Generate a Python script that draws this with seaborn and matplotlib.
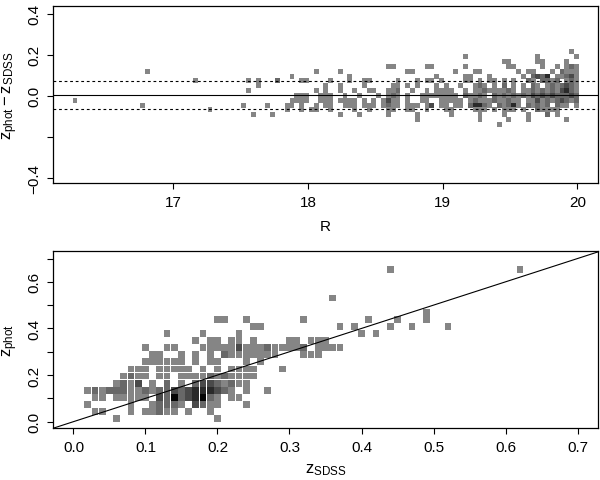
import numpy as np
import pandas as pd
import matplotlib
matplotlib.use("Agg")
import matplotlib.pyplot as plt
import seaborn as sns

sns.set_theme(style="ticks")
plt.rcParams["font.family"] = ["Liberation Sans", "DejaVu Sans"]
plt.rcParams["mathtext.fontset"] = "custom"
plt.rcParams["mathtext.rm"] = "Liberation Sans"
plt.rcParams["mathtext.it"] = "Liberation Sans"

# ---------------- data ----------------
# grey level of each occupied cell (1 = one object, higher = darker)
level_colors = {1: "#858585", 2: "#686868", 3: "#4a4a4a", 4: "#2a2a2a", 5: "#050505"}

# top panel: R bins (columns) x (z_phot - z_SDSS) bins (rows)
top_r_first, top_r_width = 16.27, 0.0358
top_dz_first, top_dz_width = 0.001, 0.0236
top_rows = {
    9: "..........|..........|..........|..........|..........|..........|..........|..........|..........|..........|...1..",
    8: "..........|..........|..........|..........|..........|..........|..........|..........|.1........|......1...|....1.",
    7: "..........|..........|..........|..........|..........|..........|..........|..........|.........1|1.....11..|..1...",
    6: "..........|..........|..........|..........|..........|..........|.....11...|...11.....|.1........|11.....1..|1.121.",
    5: "..........|.....1....|..........|..........|..........|1....1....|.........1|1........1|...11.....|..1.11...1|.2111.",
    4: "..........|..........|..........|..........|.....1....|.......1..|..........|.....1....|.11...1...|...1.2324.|11231.",
    3: "..........|..........|.....1....|......1.1.|..2....11.|...1...1..|11.....1..|.1.11.1...|.11.1.11.1|.1..21.221|2.121.",
    2: "..........|..........|..........|........1.|..........|..1..1....|1.....11.1|.1...1.1..|1..121.1.2|.1.1.21.12|12321.",
    1: "..........|..........|..........|......1...|..........|1.1..1..1.|.11..112..|1..1.1111.|.1.1121111|21.1121212|13421.",
    0: "..........|..........|..........|..........|......111.|.111..1..1|...1.121.1|..11111111|.21121.212|1212132323|22232.",
    -1: "1.........|..........|..........|..........|.....1111.|.111.1111.|1.1.1311.1|..11..1111|1.12111211|211.113121|23212.",
    -2: "..........|....1.....|..........|.....1....|1...11.1..|1.11..111.|111.1211.1|11.13.11.1|1.24421.21|241.21212.|211.1.",
    -3: "..........|..........|........1.|..........|....1..1.1|1..1....1.|.1...11..1|1..1...11.|...111.1.1|11.1..2111|1.....",
    -4: "..........|..........|..........|.......1..|.1........|.....1...1|.....1....|.1......1.|....1....1|....1...2.|1.....",
    -5: "..........|..........|..........|..........|..........|..........|..........|.1........|....1.....|1...1.....|..1...",
    -6: "..........|..........|..........|..........|..........|..........|..........|..........|........1.|..........|......",
}
dz_mean, dz_sigma = 0.003, 0.068

# bottom panel: z_SDSS bins (columns) x z_phot bins (rows)
bot_x_first, bot_x_width = 0.0, 0.01
bot_y_first, bot_y_width = 0.0125, 0.0305
bot_rows = {
    0: "......1...|..........|1.........|..........|..........|..........|...",
    1: "...11...1.|11211.1..1|..........|..........|..........|..........|...",
    2: "..1.....1.|.12221.321|1...1.....|..........|..........|..........|...",
    3: "...11.1111|1.32523452|1.11......|..........|..........|..........|...",
    4: "..12122211|2122323444|321.1..1..|..........|..........|..........|...",
    5: "......1213|.1.2.1.233|21211.....|..........|..........|..........|...",
    6: ".......121|1.11.11112|121111....|..........|..........|..........|...",
    7: "........11|1.11111.1.|1.1111...1|..........|..........|..........|...",
    8: "..........|111111.1.1|1...1.1...|..........|..........|..........|...",
    9: "..........|.11..1.1.1|.21111111.|..111.....|..........|..........|...",
    10: "..........|1..11...11|1113111211|112.1111..|..........|..........|...",
    11: "..........|.......1.1|1.11.1....|11.111....|..........|..........|...",
    12: "..........|...1....1.|...1......|..........|1.1.......|..........|...",
    13: "..........|..........|.....11...|.......1.1|....1..1..|..1.......|...",
    14: "..........|..........|11..1.....|..1.......|.1...1...1|..........|...",
    15: "..........|..........|..........|..........|.........1|..........|...",
    17: "..........|..........|..........|......1...|..........|..........|...",
    21: "..........|..........|..........|..........|....1.....|..........|..1",
}


def cells(rows, x0, dx, y0, dy, xname, yname):
    recs = []
    for r, s in rows.items():
        for c, ch in enumerate(s.replace("|", "")):
            if ch != ".":
                recs.append({xname: x0 + dx * c, yname: y0 + dy * r, "level": int(ch)})
    return pd.DataFrame(recs)


top_df = cells(top_rows, top_r_first, top_r_width, top_dz_first, top_dz_width, "R", "dz")
bot_df = cells(bot_rows, bot_x_first, bot_x_width, bot_y_first, bot_y_width, "zsdss", "zphot")

# ---------------- figure ----------------
fig = plt.figure(figsize=(6.0, 4.81), dpi=100)
ax1 = fig.add_axes([53.3 / 600, 1 - 184.3 / 481, 544.4 / 600, 177 / 481])
ax2 = fig.add_axes([53.3 / 600, 1 - 429.3 / 481, 544.4 / 600, 177 / 481])

sns.scatterplot(data=top_df, x="R", y="dz", hue="level", palette=level_colors,
                marker="s", s=12.5, linewidth=0, legend=False, ax=ax1, zorder=2)
ax1.axhline(dz_mean, color="black", lw=0.8, zorder=3)
ax1.axhline(dz_mean + dz_sigma, color="black", lw=0.8, ls=(0, (2.5, 2.5)), zorder=3)
ax1.axhline(dz_mean - dz_sigma, color="black", lw=0.8, ls=(0, (2.5, 2.5)), zorder=3)
ax1.set_xlim(16.109, 20.151)
ax1.set_ylim(-0.428, 0.436)
ax1.set_xticks([17, 18, 19, 20])
ax1.set_xticklabels(["17", "18", "19", "20"])
ax1.set_yticks([-0.4, -0.2, 0.0, 0.2, 0.4])
ax1.set_yticklabels(["\u22120.4", "", "0.0", "0.2", "0.4"])
ax1.set_xlabel("R", fontsize=11)
ax1.set_ylabel(r"$\mathrm{z_{phot} - z_{SDSS}}$", fontsize=12)

sns.scatterplot(data=bot_df, x="zsdss", y="zphot", hue="level", palette=level_colors,
                marker="s", s=24, linewidth=0, legend=False, ax=ax2, zorder=2)
ax2.axline((0, 0), slope=1, color="black", lw=0.8, zorder=3)
ax2.set_xlim(-0.028, 0.728)
ax2.set_ylim(-0.0285, 0.731)
ax2.set_xticks(np.arange(0, 8) / 10)
ax2.set_xticklabels(["0.0", "0.1", "0.2", "0.3", "0.4", "0.5", "0.6", "0.7"])
ax2.set_yticks(np.arange(0, 8) / 10)
ax2.set_yticklabels(["0.0", "", "0.2", "", "0.4", "", "0.6", ""])
ax2.set_xlabel(r"$\mathrm{z_{SDSS}}$", fontsize=12)
ax2.set_ylabel(r"$\mathrm{z_{phot}}$", fontsize=12)

for ax in (ax1, ax2):
    for sp in ax.spines.values():
        sp.set_visible(True)
        sp.set_linewidth(0.9)
        sp.set_color("black")
    ax.tick_params(direction="out", length=4.5, width=0.8, color="black",
                   labelsize=11, pad=4, labelcolor="black")
    ax.tick_params(axis="y", labelrotation=90)
    for lab in ax.get_yticklabels():
        lab.set_va("center")
    ax.yaxis.set_label_coords(-0.061, 0.5)
    ax.xaxis.label.set_color("black")
    ax.yaxis.label.set_color("black")

ax1.xaxis.set_label_coords(0.5, -0.2)
ax2.xaxis.set_label_coords(0.5, -0.185)

fig.savefig("out.png", dpi=100, facecolor="white")
